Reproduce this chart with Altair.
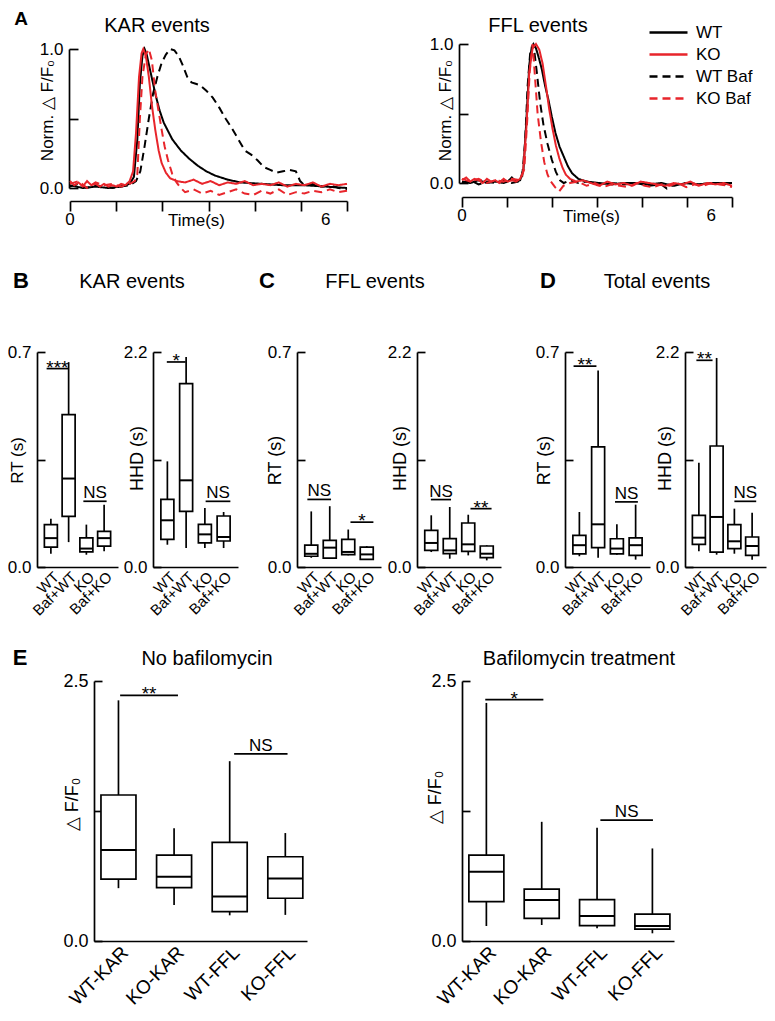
import altair as alt
import pandas as pd

PAD_TOP = 3
W, H = 759, 1002
MX, MY = 8, 8 + PAD_TOP
FONT = "Liberation Sans, Arial, Helvetica, sans-serif"
RED = "#e8252b"
BLACK = "#000000"
LW = 1.7


def px(v):
    return v - MX


def py(v):
    return v - MY


# ---------------- Panel A: normalized traces ----------------
series_names = ["WT", "KO", "WT Baf", "KO Baf"]
time_ticks = [0, 1.0833, 2.1667, 3.25, 4.3333, 5.4167, 6.5]

kar_wt_t = [0.0, 0.3, 0.6, 0.9, 1.2, 1.4, 1.5, 1.58, 1.64, 1.7, 1.75, 1.8, 1.9, 2.0, 2.1, 2.2, 2.4, 2.6, 2.8, 3.0, 3.2, 3.4, 3.7, 4.0, 4.5, 5.0, 5.5, 6.0, 6.5]
kar_wt_y = [0.02, 0.0, 0.01, 0.0, 0.01, 0.03, 0.08, 0.35, 0.75, 0.95, 1.0, 0.96, 0.82, 0.68, 0.56, 0.47, 0.35, 0.27, 0.21, 0.16, 0.12, 0.09, 0.06, 0.04, 0.03, 0.02, 0.02, 0.01, 0.0]

kar_ko_t = [0.0, 0.1, 0.2, 0.3, 0.4, 0.5, 0.6, 0.7, 0.8, 0.9, 1.0, 1.1, 1.2, 1.3, 1.4, 1.48, 1.55, 1.62, 1.68, 1.72, 1.78, 1.85, 1.92, 2.0, 2.08, 2.15, 2.25, 2.35, 2.5, 2.7, 2.9, 3.1, 3.3, 3.5, 3.7, 3.9, 4.1, 4.3, 4.5, 4.7, 4.9, 5.1, 5.3, 5.5, 5.7, 5.9, 6.1, 6.3, 6.5]
kar_ko_y = [0.05, 0.02, 0.04, 0.01, 0.05, 0.02, 0.03, 0.01, 0.03, 0.01, 0.02, 0.01, 0.03, 0.02, 0.05, 0.12, 0.4, 0.8, 0.97, 1.0, 0.95, 0.8, 0.6, 0.42, 0.27, 0.18, 0.11, 0.07, 0.05, 0.04, 0.06, 0.03, 0.05, 0.02, 0.04, 0.03, 0.05, 0.02, 0.03, 0.02, 0.04, 0.01, 0.03, 0.02, 0.04, 0.01, 0.03, 0.02, 0.03]

kar_wtbaf_t = [0.0, 0.2, 0.4, 0.6, 0.8, 1.0, 1.2, 1.4, 1.55, 1.65, 1.75, 1.85, 1.95, 2.05, 2.15, 2.25, 2.35, 2.45, 2.55, 2.65, 2.75, 2.85, 2.95, 3.05, 3.2, 3.35, 3.5, 3.65, 3.8, 3.95, 4.1, 4.25, 4.4, 4.55, 4.7, 4.85, 5.0, 5.15, 5.3, 5.4, 5.5, 5.7, 5.9, 6.1, 6.3, 6.5]
kar_wtbaf_y = [0.01, 0.03, 0.0, 0.02, 0.01, 0.0, 0.01, 0.02, 0.05, 0.12, 0.3, 0.5, 0.68, 0.8, 0.9, 0.96, 1.0, 0.99, 0.95, 0.88, 0.8, 0.76, 0.75, 0.74, 0.7, 0.65, 0.58, 0.5, 0.43, 0.35, 0.27, 0.24, 0.2, 0.15, 0.13, 0.11, 0.12, 0.13, 0.12, 0.05, 0.02, 0.03, 0.01, 0.02, 0.0, -0.01]

kar_kobaf_t = [0.0, 0.2, 0.4, 0.6, 0.8, 1.0, 1.2, 1.4, 1.52, 1.58, 1.64, 1.7, 1.78, 1.85, 1.92, 2.0, 2.08, 2.15, 2.22, 2.3, 2.4, 2.5, 2.6, 2.7, 2.9, 3.1, 3.3, 3.5, 3.7, 3.9, 4.1, 4.3, 4.5, 4.7, 4.9, 5.1, 5.3, 5.5, 5.7, 5.9, 6.1, 6.3, 6.5]
kar_kobaf_y = [0.03, 0.05, 0.0, 0.04, 0.02, 0.03, 0.01, 0.03, 0.05, 0.1, 0.5, 0.8, 0.96, 1.0, 0.92, 0.7, 0.55, 0.42, 0.3, 0.2, 0.1, 0.04, 0.0, -0.03, -0.01, -0.04, -0.02, -0.05, -0.03, -0.01, -0.04, -0.05, -0.02, -0.04, -0.01, -0.05, -0.03, -0.04, -0.02, -0.03, -0.01, -0.03, -0.02]

ffl_wt_t = [0.0, 0.2, 0.4, 0.6, 0.8, 1.0, 1.1, 1.2, 1.3, 1.4, 1.48, 1.55, 1.62, 1.68, 1.72, 1.78, 1.85, 1.92, 2.0, 2.08, 2.16, 2.25, 2.35, 2.45, 2.55, 2.65, 2.8, 3.0, 3.3, 3.6, 3.9, 4.2, 4.5, 4.8, 5.1, 5.4, 5.7, 6.0, 6.3, 6.5]
ffl_wt_y = [0.01, 0.0, 0.02, 0.0, 0.01, 0.0, 0.01, 0.04, 0.01, 0.02, 0.1, 0.45, 0.85, 0.98, 1.0, 0.97, 0.9, 0.82, 0.7, 0.6, 0.48, 0.36, 0.26, 0.19, 0.12, 0.07, 0.03, 0.01, 0.0, -0.01, 0.0, 0.0, -0.01, 0.0, -0.02, 0.0, -0.01, 0.0, 0.0, 0.0]

ffl_ko_t = [0.0, 0.1, 0.2, 0.3, 0.4, 0.5, 0.6, 0.7, 0.8, 0.9, 1.0, 1.1, 1.2, 1.3, 1.4, 1.47, 1.55, 1.62, 1.7, 1.78, 1.86, 1.94, 2.02, 2.1, 2.18, 2.26, 2.34, 2.42, 2.5, 2.6, 2.75, 2.9, 3.1, 3.3, 3.5, 3.7, 3.9, 4.1, 4.3, 4.5, 4.7, 4.9, 5.1, 5.3, 5.5, 5.7, 5.9, 6.1, 6.3, 6.5]
ffl_ko_y = [0.02, 0.04, 0.01, 0.03, 0.02, 0.0, 0.03, 0.01, 0.02, 0.0, 0.03, 0.01, 0.02, 0.01, 0.03, 0.08, 0.4, 0.8, 0.97, 1.0, 0.96, 0.86, 0.7, 0.53, 0.39, 0.27, 0.18, 0.11, 0.06, 0.03, 0.01, 0.02, 0.0, -0.02, 0.01, -0.01, 0.0, -0.02, 0.01, 0.0, -0.01, -0.02, 0.0, -0.01, 0.01, -0.02, 0.0, -0.01, 0.0, -0.02]

ffl_wtbaf_t = [0.0, 0.2, 0.4, 0.6, 0.8, 1.0, 1.2, 1.35, 1.45, 1.52, 1.58, 1.64, 1.72, 1.8, 1.88, 1.96, 2.06, 2.16, 2.26, 2.36, 2.45, 2.6, 2.8, 3.0, 3.3, 3.6, 3.9, 4.2, 4.5, 4.8, 4.93, 5.1, 5.4, 5.7, 6.0, 6.3, 6.5]
ffl_wtbaf_y = [0.0, 0.02, -0.01, 0.01, 0.0, 0.02, 0.0, 0.01, 0.05, 0.3, 0.7, 0.93, 1.0, 0.8, 0.58, 0.42, 0.28, 0.17, 0.08, 0.02, 0.0, 0.02, 0.0, 0.01, -0.01, 0.0, -0.01, 0.0, -0.02, -0.01, -0.04, -0.01, 0.0, -0.01, 0.0, -0.01, 0.0]

ffl_kobaf_t = [0.0, 0.2, 0.4, 0.6, 0.8, 1.0, 1.2, 1.4, 1.5, 1.57, 1.63, 1.7, 1.76, 1.82, 1.9, 1.98, 2.06, 2.14, 2.24, 2.34, 2.44, 2.6, 2.8, 3.0, 3.2, 3.4, 3.6, 3.8, 4.0, 4.2, 4.4, 4.6, 4.8, 5.0, 5.2, 5.4, 5.6, 5.8, 6.0, 6.2, 6.4, 6.5]
ffl_kobaf_y = [0.03, 0.01, 0.03, 0.0, 0.02, 0.01, 0.03, 0.02, 0.1, 0.45, 0.8, 1.0, 0.75, 0.5, 0.3, 0.15, 0.06, 0.01, -0.03, -0.06, -0.02, 0.0, 0.01, -0.02, 0.0, -0.03, -0.01, -0.02, -0.03, 0.0, -0.02, -0.03, -0.01, -0.02, 0.0, -0.03, -0.01, -0.02, 0.0, -0.01, -0.02, -0.03]

# ---------------- Panels B-D: box plots ----------------
groups_bcd = ["WT", "Baf+WT", "KO", "Baf+KO"]

b_rt_lo = [0.043, 0.081, 0.040, 0.051]
b_rt_q1 = [0.065, 0.165, 0.049, 0.068]
b_rt_med = [0.094, 0.288, 0.060, 0.094]
b_rt_q3 = [0.138, 0.496, 0.095, 0.116]
b_rt_hi = [0.157, 0.667, 0.138, 0.203]
b_rt_sig = [(0.76, 1.97, 0.646, "***"), (2.83, 4.14, 0.214, "NS")]

b_hhd_lo = [0.228, 0.194, 0.194, 0.194]
b_hhd_q1 = [0.283, 0.570, 0.246, 0.266]
b_hhd_med = [0.478, 0.887, 0.334, 0.307]
b_hhd_q3 = [0.692, 1.876, 0.437, 0.522]
b_hhd_hi = [1.081, 2.149, 0.604, 0.563]
b_hhd_sig = [(0.97, 1.97, 2.098, "*"), (3.04, 4.36, 0.672, "NS")]

c_rt_lo = [0.030, 0.027, 0.038, 0.025]
c_rt_q1 = [0.035, 0.029, 0.040, 0.025]
c_rt_med = [0.043, 0.063, 0.049, 0.041]
c_rt_q3 = [0.071, 0.087, 0.090, 0.065]
c_rt_hi = [0.181, 0.198, 0.122, 0.068]
c_rt_sig = [(0.79, 2.07, 0.22, "NS"), (3.12, 4.36, 0.146, "*")]

c_hhd_lo = [0.153, 0.085, 0.119, 0.068]
c_hhd_q1 = [0.171, 0.136, 0.160, 0.096]
c_hhd_med = [0.246, 0.170, 0.232, 0.136]
c_hhd_q3 = [0.375, 0.290, 0.450, 0.215]
c_hhd_hi = [0.529, 0.614, 0.535, 0.222]
c_hhd_sig = [(0.98, 2.07, 0.69, "NS"), (3.12, 4.26, 0.597, "**")]

d_rt_lo = [0.035, 0.030, 0.040, 0.024]
d_rt_q1 = [0.043, 0.063, 0.043, 0.038]
d_rt_med = [0.071, 0.139, 0.060, 0.071]
d_rt_q3 = [0.103, 0.391, 0.092, 0.095]
d_rt_hi = [0.179, 0.640, 0.139, 0.203]
d_rt_sig = [(0.69, 1.91, 0.654, "**"), (2.9, 4.12, 0.212, "NS")]

d_hhd_lo = [0.160, 0.126, 0.136, 0.075]
d_hhd_q1 = [0.232, 0.153, 0.188, 0.119]
d_hhd_med = [0.300, 0.512, 0.263, 0.215]
d_hhd_q3 = [0.529, 1.238, 0.433, 0.307]
d_hhd_hi = [1.068, 2.139, 0.597, 0.556]
d_hhd_sig = [(0.86, 1.77, 2.115, "**"), (3.0, 4.23, 0.672, "NS")]

# ---------------- Panel E ----------------
groups_e = ["WT-KAR", "KO-KAR", "WT-FFL", "KO-FFL"]

e_nobaf_lo = [0.508, 0.347, 0.247, 0.251]
e_nobaf_q1 = [0.595, 0.514, 0.283, 0.411]
e_nobaf_med = [0.874, 0.617, 0.427, 0.601]
e_nobaf_q3 = [1.404, 0.826, 0.948, 0.810]
e_nobaf_hi = [2.314, 1.083, 1.729, 1.038]
e_nobaf_sig = [(1.03, 2.07, 2.362, "**"), (3.08, 4.04, 1.8, "NS")]

e_baf_lo = [0.144, 0.154, 0.122, 0.074]
e_baf_q1 = [0.378, 0.218, 0.147, 0.115]
e_baf_med = [0.666, 0.394, 0.240, 0.144]
e_baf_q3 = [0.826, 0.499, 0.397, 0.259]
e_baf_hi = [2.289, 1.146, 1.088, 0.890]
e_baf_sig = [(0.98, 2.03, 2.321, "*"), (3.06, 4.01, 1.162, "NS")]


# ---------------- helpers ----------------
def yaxis(ax_x, ticks, ymax, title, title_x, title_y, size=17, tick_len=8, title_size=18):
    return alt.Axis(
        orient="left", offset=-px(ax_x), values=ticks,
        labelExpr=f"datum.value == 0 || datum.value == {ymax} ? format(datum.value, '.1f') : ''",
        tickSize={"expr": f"-{tick_len}"}, tickWidth=LW, tickColor=BLACK,
        domainColor=BLACK, domainWidth=LW, grid=False,
        labelPadding=tick_len + 6, labelFontSize=size, labelFont=FONT, labelColor=BLACK,
        labelOverlap=False, labelFlush=False,
        title=title, titleX=title_x - ax_x, titleY=py(title_y), titleAngle=270,
        titleAlign="center", titleBaseline="middle", titleFontSize=title_size,
        titleFontWeight="normal", titleFont=FONT, titleColor=BLACK,
    )


def cat_expr(labels):
    expr = "''"
    for i in reversed(range(len(labels))):
        expr = f"datum.value == {i + 1} ? '{labels[i]}' : ({expr})"
    return expr


def box_xaxis(labels, axis_y, size, pad):
    return alt.Axis(
        orient="bottom", offset=py(axis_y) - H, values=[1, 2, 3, 4],
        labelExpr=cat_expr(labels), ticks=False, domainColor=BLACK, domainWidth=LW,
        grid=False, labelAngle=-45, labelAlign="right", labelBaseline="top",
        labelPadding=pad, labelFontSize=size, labelFont=FONT, labelColor=BLACK,
        labelOverlap=False, labelFlush=False, title=None,
    )


def box_panel(groups, lo, q1, med, q3, hi, sig, x0, x1, ybot, ytop, ymax,
              ytitle, title_x, title_y, dom=(0.5, 4.5), bw=13, lab_size=15,
              tick_size=17, lab_pad=2, sig_size=17, star_size=19, title_size=18):
    df = pd.DataFrame({"idx": list(range(1, len(groups) + 1)), "lo": lo, "q1": q1,
                       "med": med, "q3": q3, "hi": hi})
    sdf = pd.DataFrame(sig, columns=["x1", "x2", "y", "label"])
    sdf["xm"] = (sdf["x1"] + sdf["x2"]) / 2
    xs = alt.Scale(domain=list(dom), range=[px(x0), px(x1)], nice=False, zero=False)
    ys = alt.Scale(domain=[0, ymax], range=[py(ybot), py(ytop)], nice=False, zero=False)
    xa = box_xaxis(groups, ybot, lab_size, lab_pad)
    ya = yaxis(x0, [0, ymax / 2, ymax], ymax, ytitle, title_x, title_y, tick_size,
               title_size=title_size)

    def X(f):
        return alt.X(f"{f}:Q", scale=xs, axis=xa)

    def Y(f):
        return alt.Y(f"{f}:Q", scale=ys, axis=ya)

    base = alt.Chart(df)
    whisk = base.mark_rule(color=BLACK, strokeWidth=LW).encode(x=X("idx"), y=Y("lo"), y2="hi:Q")
    box = base.mark_bar(fill="white", stroke=BLACK, strokeWidth=LW, size=bw).encode(
        x=X("idx"), y=Y("q1"), y2="q3:Q")
    medt = base.mark_tick(color=BLACK, thickness=2, size=bw, orient="horizontal",
                          opacity=1).encode(x=X("idx"), y=Y("med"))
    sbar = alt.Chart(sdf).mark_rule(color=BLACK, strokeWidth=LW).encode(
        x=X("x1"), x2="x2:Q", y=Y("y"))
    stars = alt.Chart(sdf).transform_filter("datum.label != 'NS'").mark_text(
        fontSize=star_size, dy=5, baseline="alphabetic", font=FONT, color=BLACK).encode(
        x=X("xm"), y=Y("y"), text="label:N")
    ns = alt.Chart(sdf).transform_filter("datum.label == 'NS'").mark_text(
        fontSize=sig_size, dy=-3, baseline="alphabetic", font=FONT, color=BLACK).encode(
        x=X("xm"), y=Y("y"), text="label:N")
    return alt.layer(whisk, box, medt, sbar, stars, ns)


color_scale = alt.Scale(domain=series_names, range=[BLACK, RED, BLACK, RED])
dash_scale = alt.Scale(domain=series_names, range=[[1, 0], [1, 0], [8, 5], [8, 5]])
trace_legend = alt.Legend(
    title=None, orient="none", legendX=px(647) + 13, legendY=py(24),
    symbolType="M-3.8,0H3.8", symbolSize=100, symbolStrokeWidth=2.5,
    labelFontSize=17, labelFont=FONT, labelColor=BLACK, labelOffset=19, rowPadding=4,
)


def trace_panel(traces, x0, x1, ax_y, ybot, ytop, ax_x, time_x, ytitle_x):
    frames = []
    for name, ts, ys in traces:
        frames.append(pd.DataFrame({"t": ts, "y": ys, "series": name}))
    df = pd.concat(frames, ignore_index=True)
    xs = alt.Scale(domain=[0, 6.5], range=[px(x0), px(x1)], nice=False, zero=False)
    ys_ = alt.Scale(domain=[0, 1], range=[py(ybot), py(ytop)], nice=False, zero=False)
    xa = alt.Axis(
        orient="bottom", offset=py(ax_y) - H, values=time_ticks, labels=False,
        tickSize=10, tickWidth=LW, tickColor=BLACK, domainColor=BLACK, domainWidth=LW,
        grid=False, title="Time(s)", titleX=px(time_x), titleY=11, titleBaseline="top",
        titleAlign="center", titleFontSize=17, titleFontWeight="normal", titleFont=FONT,
        titleColor=BLACK,
    )
    ya = yaxis(ax_x, [0, 0.5, 1], 1, "Norm.  \u25b3  F/F\u2080", ytitle_x, 110, 17, 9,
               title_size=17)
    lines = alt.Chart(df).mark_line(strokeWidth=2, clip=False).encode(
        x=alt.X("t:Q", scale=xs, axis=xa),
        y=alt.Y("y:Q", scale=ys_, axis=ya),
        color=alt.Color("series:N", scale=color_scale, legend=trace_legend),
        strokeDash=alt.StrokeDash("series:N", scale=dash_scale, legend=trace_legend),
        detail="series:N",
    )
    tl = pd.DataFrame({"t": [0, 6], "lab": ["0", "6"]})
    labs = alt.Chart(tl).mark_text(fontSize=17, font=FONT, color=BLACK, baseline="top").encode(
        x=alt.X("t:Q", scale=xs, axis=xa), y=alt.value(py(ax_y + 11)), text="lab:N")
    return alt.layer(lines, labs)


def label(text, x, y, size=20, bold=False, align="center", baseline="alphabetic"):
    return alt.Chart(pd.DataFrame({"k": [0]})).mark_text(
        text=text, fontSize=size, font=FONT, color=BLACK, align=align, baseline=baseline,
        fontWeight="bold" if bold else "normal",
    ).encode(x=alt.value(px(x)), y=alt.value(py(y)))


# ---------------- assemble ----------------
panel_a_kar = trace_panel(
    [("WT", kar_wt_t, kar_wt_y), ("WT Baf", kar_wtbaf_t, kar_wtbaf_y),
     ("KO Baf", kar_kobaf_t, kar_kobaf_y), ("KO", kar_ko_t, kar_ko_y)],
    70, 347, 201, 188, 49, 69, 196, 47)
panel_a_ffl = trace_panel(
    [("WT", ffl_wt_t, ffl_wt_y), ("WT Baf", ffl_wtbaf_t, ffl_wtbaf_y),
     ("KO Baf", ffl_kobaf_t, ffl_kobaf_y), ("KO", ffl_ko_t, ffl_ko_y)],
    462, 732, 197, 183, 44, 459, 591, 445)

YB, YT = 567, 352
panels = [
    panel_a_kar, panel_a_ffl,
    box_panel(groups_bcd, b_rt_lo, b_rt_q1, b_rt_med, b_rt_q3, b_rt_hi, b_rt_sig,
              37, 118, YB, YT, 0.7, "RT (s)", 17, 460, title_size=17),
    box_panel(groups_bcd, b_hhd_lo, b_hhd_q1, b_hhd_med, b_hhd_q3, b_hhd_hi, b_hhd_sig,
              153, 238, YB, YT, 2.2, "HHD (s)", 137, 458),
    box_panel(groups_bcd, c_rt_lo, c_rt_q1, c_rt_med, c_rt_q3, c_rt_hi, c_rt_sig,
              297, 381, YB, YT, 0.7, "RT (s)", 275, 460),
    box_panel(groups_bcd, c_hhd_lo, c_hhd_q1, c_hhd_med, c_hhd_q3, c_hhd_hi, c_hhd_sig,
              417, 501, YB, YT, 2.2, "HHD (s)", 400, 458),
    box_panel(groups_bcd, d_rt_lo, d_rt_q1, d_rt_med, d_rt_q3, d_rt_hi, d_rt_sig,
              565, 650, YB, YT, 0.7, "RT (s)", 544, 460),
    box_panel(groups_bcd, d_hhd_lo, d_hhd_q1, d_hhd_med, d_hhd_q3, d_hhd_hi, d_hhd_sig,
              685, 766, YB, YT, 2.2, "HHD (s)", 665, 458),
    box_panel(groups_e, e_nobaf_lo, e_nobaf_q1, e_nobaf_med, e_nobaf_q3, e_nobaf_hi,
              e_nobaf_sig, 94, 307, 941, 681, 2.5, "\u25b3  F/F\u2080", 72, 804,
              dom=(0.65, 4.3), bw=35, lab_size=19, tick_size=18, lab_pad=2, sig_size=17,
              star_size=19),
    box_panel(groups_e, e_baf_lo, e_baf_q1, e_baf_med, e_baf_q3, e_baf_hi,
              e_baf_sig, 462, 674, 941, 681, 2.5, "\u25b3  F/F\u2080", 435, 797,
              dom=(0.65, 4.3), bw=35, lab_size=19, tick_size=18, lab_pad=2, sig_size=17,
              star_size=19),
]

texts = [
    label("A", 21, 25, 19, True), label("KAR events", 157, 32), label("FFL events", 538, 32),
    label("B", 21, 288, 22, True), label("KAR events", 132, 288),
    label("C", 267, 288, 22, True), label("FFL events", 375, 288),
    label("D", 548, 288, 22, True), label("Total events", 657, 288),
    label("E", 20, 665, 22, True), label("No bafilomycin", 207, 665),
    label("Bafilomycin treatment", 579, 665),
]

chart = alt.layer(*panels, *texts).resolve_scale(
    x="independent", y="independent"
).properties(
    width=W, height=H, background="white",
    padding={"left": 0, "top": PAD_TOP, "right": 0, "bottom": 0},
    autosize=alt.AutoSizeParams(type="none"),
).configure_view(strokeWidth=0, stroke="transparent")

chart.save("out.html", embed_options={"renderer": "svg", "actions": False})
